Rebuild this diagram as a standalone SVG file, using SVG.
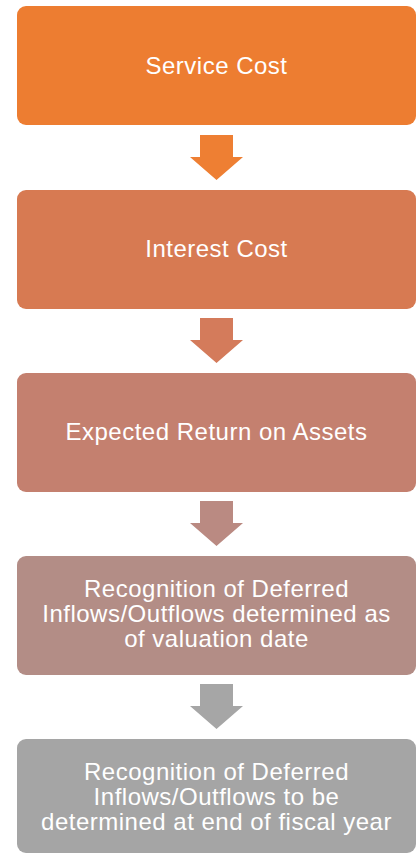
<svg xmlns="http://www.w3.org/2000/svg" width="419" height="854" viewBox="0 0 419 854">
<style>
.lbl{font-family:"Liberation Sans",Arial,sans-serif;font-size:24px;letter-spacing:0.5px;fill:#ffffff;text-anchor:middle}
</style>
<rect width="419" height="854" fill="#ffffff"/>
<g id="node-service-cost">
<rect x="17" y="6" width="399" height="119" rx="9" fill="#ED7D31"/>
<text class="lbl" x="216.5" y="74">Service Cost</text>
</g>
<g id="node-interest-cost">
<rect x="17" y="190" width="399" height="119" rx="9" fill="#D77A52"/>
<text class="lbl" x="216.5" y="257">Interest Cost</text>
</g>
<g id="node-expected-return">
<rect x="17" y="373" width="399" height="119" rx="9" fill="#C4806F"/>
<text class="lbl" x="216.5" y="440">Expected Return on Assets</text>
</g>
<g id="node-recognition-valuation">
<rect x="17" y="556" width="399" height="119" rx="9" fill="#B38D86"/>
<text class="lbl" x="216.5" y="596.5">Recognition of Deferred</text>
<text class="lbl" x="216.5" y="621.5">Inflows/Outflows determined as</text>
<text class="lbl" x="216.5" y="646.5">of valuation date</text>
</g>
<g id="node-recognition-fiscal">
<rect x="17" y="739" width="399" height="114" rx="9" fill="#A5A5A5"/>
<text class="lbl" x="216.5" y="779.5">Recognition of Deferred</text>
<text class="lbl" x="216.5" y="804.5">Inflows/Outflows to be</text>
<text class="lbl" x="216.5" y="829.5">determined at end of fiscal year</text>
</g>
<g id="connectors">
<polygon points="200,135 233,135 233,157 243,157 216.5,180 190,157 200,157" fill="#EE7F33"/>
<polygon points="200,318 233,318 233,340 243,340 216.5,363 190,340 200,340" fill="#D47B5B"/>
<polygon points="200,501 233,501 233,523 243,523 216.5,546 190,523 200,523" fill="#BA8A82"/>
<polygon points="200,684 233,684 233,706 243,706 216.5,729 190,706 200,706" fill="#A6A6A6"/>
</g>
</svg>
